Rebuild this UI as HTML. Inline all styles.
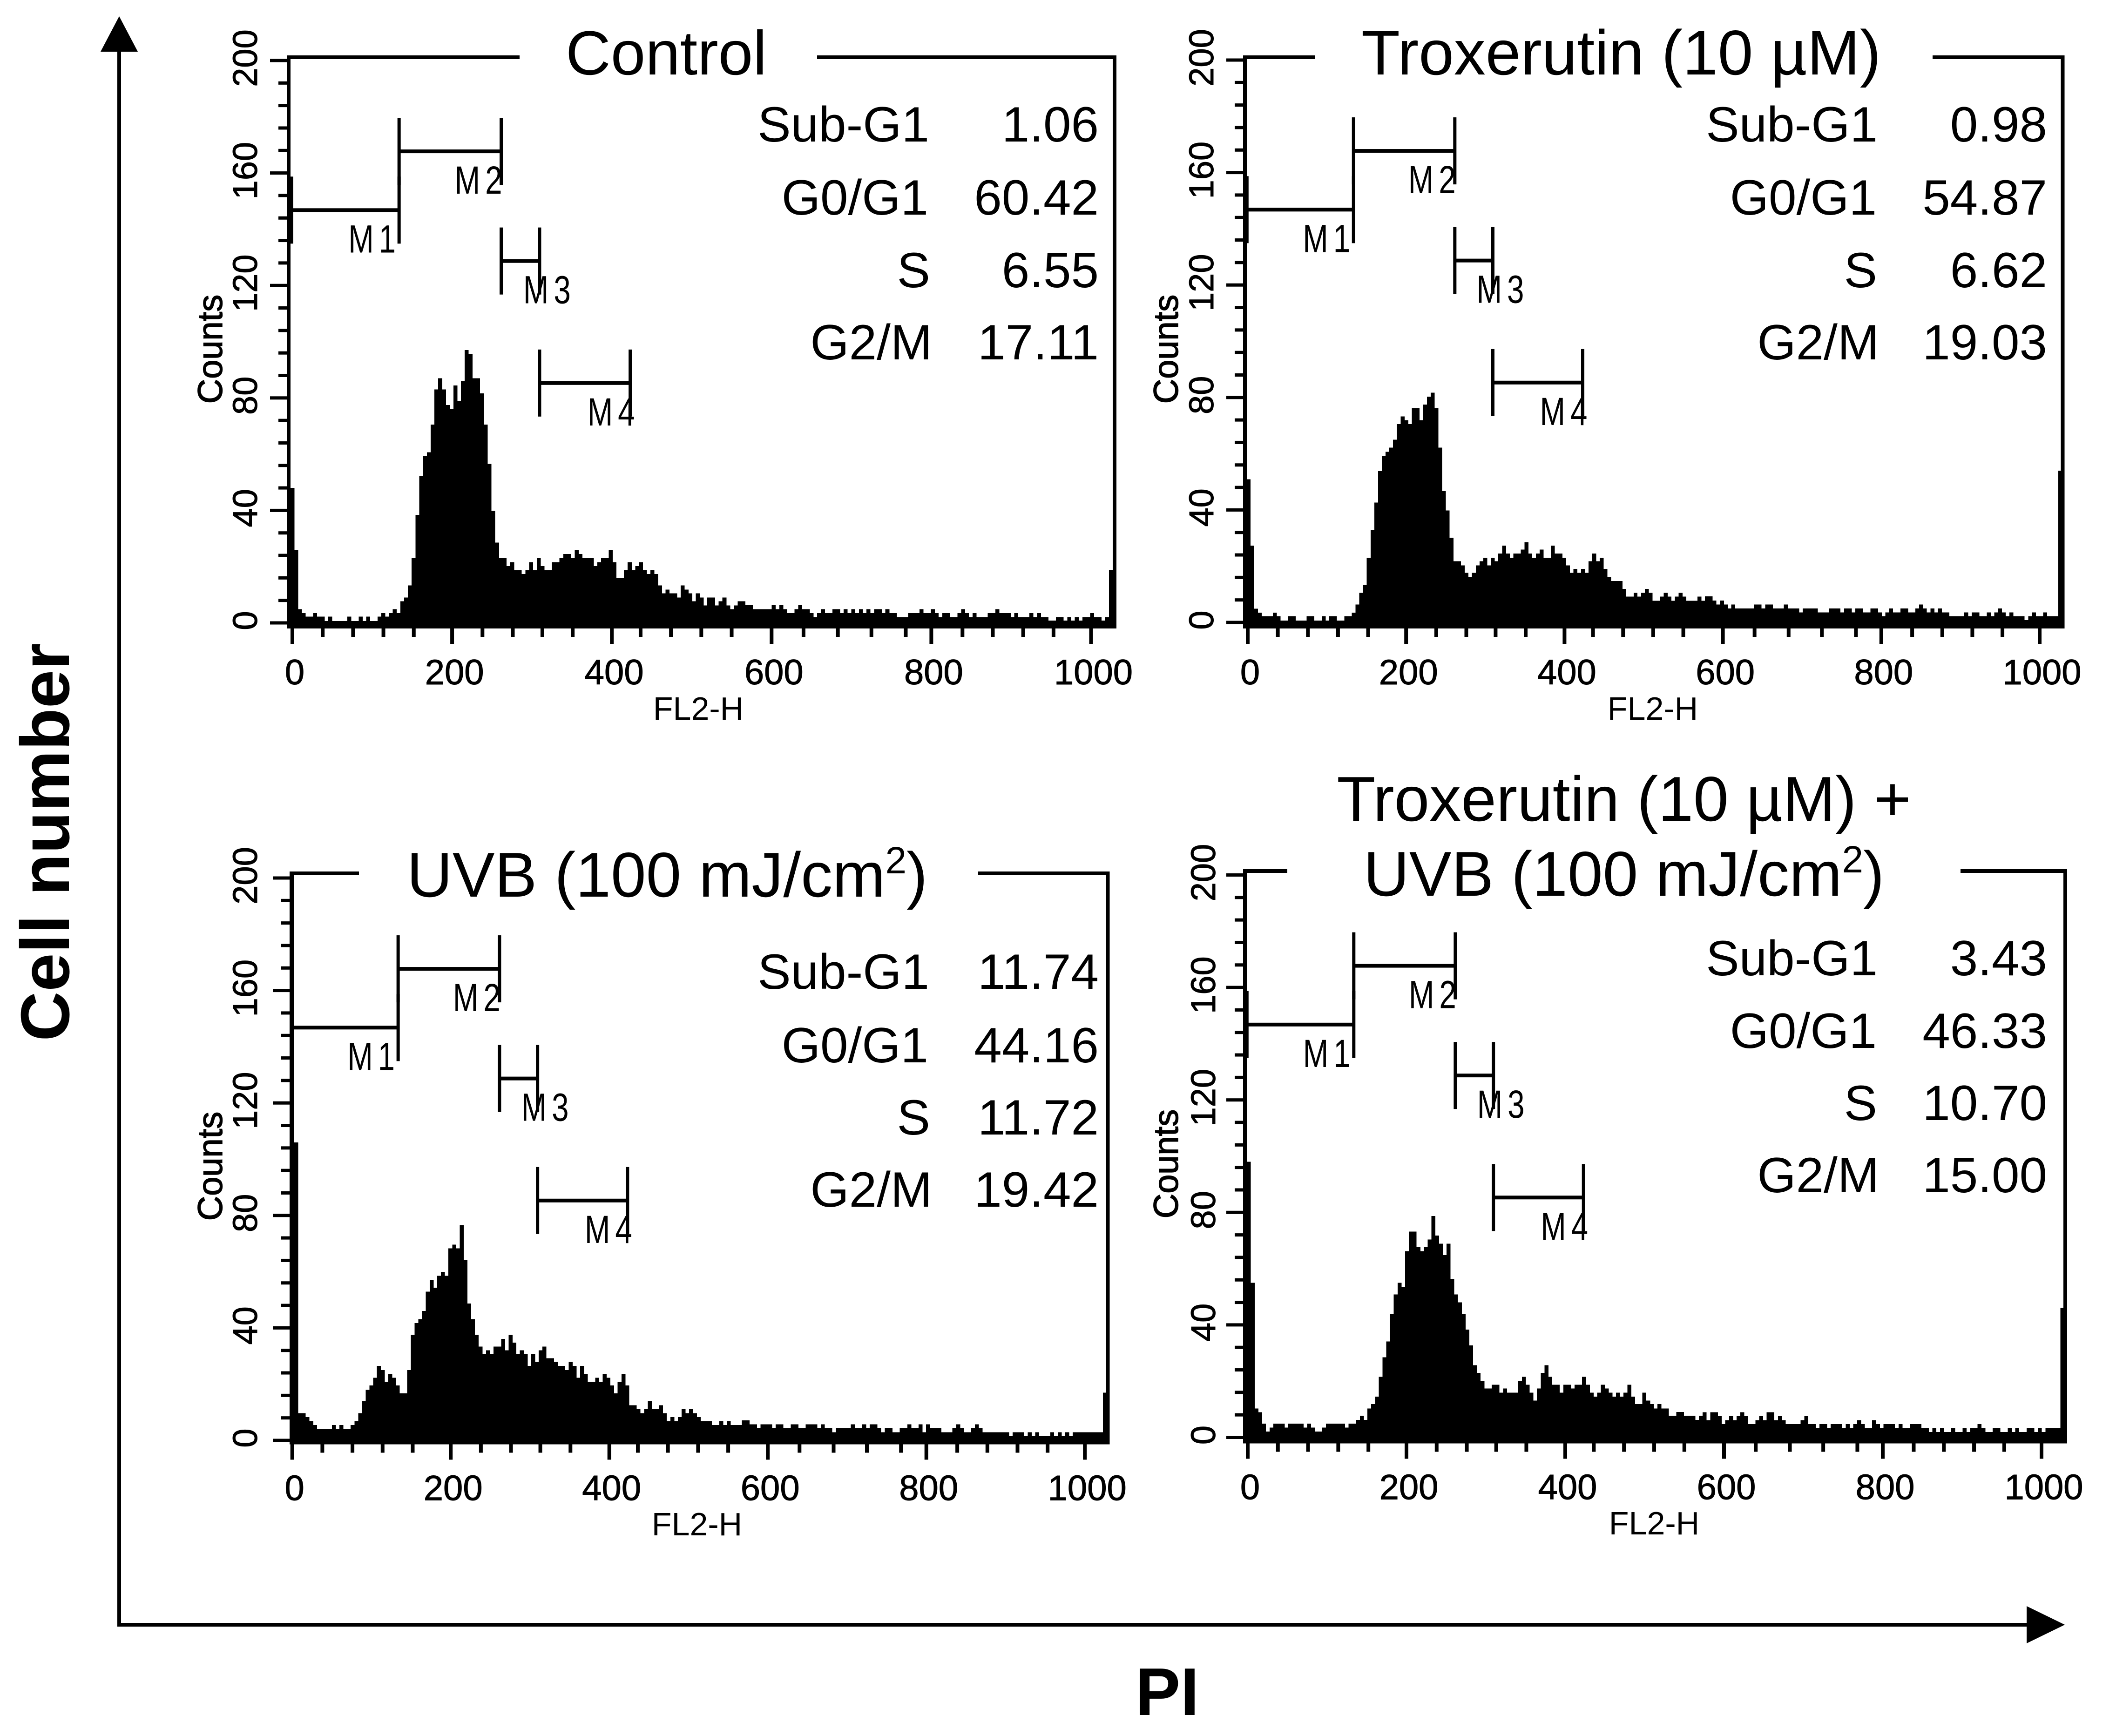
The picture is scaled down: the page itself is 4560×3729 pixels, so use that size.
<!DOCTYPE html>
<html lang="en">
<head>
<meta charset="utf-8">
<title>Cell cycle flow cytometry histograms</title>
<style>
html,body{margin:0;padding:0;background:#fff;}
svg{display:block;position:absolute;left:0;top:0;}
text{font-family:"Liberation Sans",sans-serif;fill:#000;}
</style>
</head>
<body>
<svg id="figure" width="4560" height="3729" viewBox="0 0 4560 3729" xmlns="http://www.w3.org/2000/svg">
<rect x="0" y="0" width="4560" height="3729" fill="#fff"/>

<line x1="256" y1="100" x2="256" y2="3494" stroke="#000" stroke-width="8"/>
<line x1="252" y1="3490" x2="4365" y2="3490" stroke="#000" stroke-width="8"/>
<polygon points="256,35 216,111 296,111" fill="#000"/>
<polygon points="4435,3490 4353,3450 4353,3530" fill="#000"/>
<text transform="translate(148,1809) rotate(-90)" text-anchor="middle" font-size="148" font-weight="700">Cell number</text>
<text x="2507" y="3684" text-anchor="middle" font-size="145" font-weight="700">PI</text>

<text x="1431" y="160" text-anchor="middle" font-size="134">Control</text>
<g font-size="107">
<text x="1996" y="304" text-anchor="end">Sub-G1</text>
<text x="2360" y="304" text-anchor="end">1.06</text>
<text x="1994" y="461" text-anchor="end">G0/G1</text>
<text x="2360" y="461" text-anchor="end">60.42</text>
<text x="1998" y="617" text-anchor="end">S</text>
<text x="2360" y="617" text-anchor="end">6.55</text>
<text x="2002" y="772" text-anchor="end">G2/M</text>
<text x="2360" y="772" text-anchor="end">17.11</text>
</g>
<text x="1500" y="1546" text-anchor="middle" font-size="70">FL2-H</text>
<text transform="translate(477,750) rotate(-90)" text-anchor="middle" font-size="74" stroke="#000" stroke-width="1.5">Counts</text>

<text x="3482" y="160" text-anchor="middle" font-size="136">Troxerutin (10 µM)</text>
<g font-size="107">
<text x="4033" y="304" text-anchor="end">Sub-G1</text>
<text x="4397" y="304" text-anchor="end">0.98</text>
<text x="4031" y="461" text-anchor="end">G0/G1</text>
<text x="4397" y="461" text-anchor="end">54.87</text>
<text x="4032" y="617" text-anchor="end">S</text>
<text x="4397" y="617" text-anchor="end">6.62</text>
<text x="4036" y="772" text-anchor="end">G2/M</text>
<text x="4397" y="772" text-anchor="end">19.03</text>
</g>
<text x="3550" y="1546" text-anchor="middle" font-size="70">FL2-H</text>
<text transform="translate(2530,750) rotate(-90)" text-anchor="middle" font-size="74" stroke="#000" stroke-width="1.5">Counts</text>

<text x="1433" y="1926" text-anchor="middle" font-size="136">UVB (100 mJ/cm<tspan font-size="82" dy="-50">2</tspan><tspan dy="50">)</tspan></text>
<g font-size="107">
<text x="1996" y="2124" text-anchor="end">Sub-G1</text>
<text x="2360" y="2124" text-anchor="end">11.74</text>
<text x="1994" y="2282" text-anchor="end">G0/G1</text>
<text x="2360" y="2282" text-anchor="end">44.16</text>
<text x="1998" y="2437" text-anchor="end">S</text>
<text x="2360" y="2437" text-anchor="end">11.72</text>
<text x="2002" y="2592" text-anchor="end">G2/M</text>
<text x="2360" y="2592" text-anchor="end">19.42</text>
</g>
<text x="1497" y="3298" text-anchor="middle" font-size="70">FL2-H</text>
<text transform="translate(477,2505) rotate(-90)" text-anchor="middle" font-size="74" stroke="#000" stroke-width="1.5">Counts</text>

<text x="3488" y="1763" text-anchor="middle" font-size="136">Troxerutin (10 µM) +</text>
<text x="3488" y="1924" text-anchor="middle" font-size="136">UVB (100 mJ/cm<tspan font-size="82" dy="-50">2</tspan><tspan dy="50">)</tspan></text>
<g font-size="107">
<text x="4033" y="2095" text-anchor="end">Sub-G1</text>
<text x="4397" y="2095" text-anchor="end">3.43</text>
<text x="4031" y="2251" text-anchor="end">G0/G1</text>
<text x="4397" y="2251" text-anchor="end">46.33</text>
<text x="4032" y="2406" text-anchor="end">S</text>
<text x="4397" y="2406" text-anchor="end">10.70</text>
<text x="4036" y="2561" text-anchor="end">G2/M</text>
<text x="4397" y="2561" text-anchor="end">15.00</text>
</g>
<text x="3553" y="3296" text-anchor="middle" font-size="70">FL2-H</text>
<text transform="translate(2530,2500) rotate(-90)" text-anchor="middle" font-size="74" stroke="#000" stroke-width="1.5">Counts</text>
</svg>

<script>
const controlCounts = [
48,26,4.9,3.5,2.2,2.2,3.5,2.2,2.2,.7,
2.2,.7,.7,.7,.7,2.2,.7,.7,2.2,.7,
2.2,.7,.7,2.2,3.5,2.2,3.5,4.9,3.5,7.7,
9,13.3,23,38.4,52.3,59.3,60.7,70.5,83,87,
83,77.5,76,84.4,79,86,97,95.7,87,87,
81.6,70.5,56.5,39.8,28.6,23,23,20.2,21.6,18.8,
18.8,17.4,18.8,21.6,18.8,23,20.2,18.8,18.8,21.6,
21.6,23,24.5,24.5,23,25.8,24.5,23,23,23,
20.2,21.6,23,23,25.8,21.6,16,16,18.8,21.6,
18.8,20.2,21.6,18.8,17.4,18.8,17.4,13.3,10.5,11.8,
10.5,10.5,9,13.3,11.8,10.5,7.7,10.5,9,6.2,
9,9,6.2,7.7,9,6.2,4.9,6.2,7.7,7.7,
6.3,6.3,4.9,4.9,4.9,4.9,4.9,6.3,4.9,6.3,4.9,3.5,3.5,4.9,6.3,4.9,4.9,3.5,2.1,3.5,
4.9,3.5,3.5,4.9,4.9,3.5,4.9,3.5,4.9,3.5,4.9,3.5,4.9,3.5,4.9,4.9,3.5,4.9,3.5,3.5,
2.1,2.1,2.1,3.5,3.5,3.5,4.9,3.5,3.5,4.9,3.5,2.1,3.5,3.5,2.1,2.1,3.5,4.9,3.5,2.1,
3.5,2.1,2.1,2.1,3.5,3.5,4.9,3.5,3.5,3.5,2.1,3.5,2.1,2.1,2.1,3.5,2.1,3.5,2.1,2.1,
.8,.8,2.1,2.1,.8,2.1,.8,2.1,.8,2.1,2.1,3.5,2.1,2.1,.8,2.1,18.9
];
const troxerutinCounts = [
50.9,27.3,4.9,3.5,2.2,2.2,2.2,3.5,2.2,.7,
.7,2.2,2.2,.7,.7,.7,2.2,2.2,.7,.7,
2.2,.7,2.2,2.2,.7,.7,2.2,2.2,3.5,6.4,
10.5,13.3,23,32.8,42.6,53.8,59.3,60.7,62.2,65,
70.5,73.3,71.9,70.5,76.2,76.2,71.9,77.5,80.3,81.7,
76.2,62.2,46.7,39.8,30.1,21.8,21.8,20.3,17.6,16.2,
17.6,20.3,21.8,23,20.3,23,21.8,24.5,27.3,24.5,
23,24.5,24.5,25.9,28.6,24.5,23,24.5,25.9,23,
23,27.3,24.5,24.5,23,20.3,17.6,19,17.6,19,
17.6,21.8,24.5,21.8,23,19,16.2,14.7,14.7,14.7,
11.9,9.2,9.2,10.5,9.2,10.5,11.9,10.5,7.7,7.7,
9.2,10.5,9.2,7.7,9.2,10.5,9.2,7.7,7.7,7.7,9.2,7.7,
9.3,9.3,7.8,6.4,7.8,6.4,5,6.4,5,5,5,5,5,6.4,6.4,5,6.4,6.4,5,5,5,6.4,5,5,5,3.6,
5,5,5,5,3.6,3.6,3.6,5,5,5,3.6,5,5,3.6,5,5,3.6,3.6,5,5,3.6,2.2,3.6,5,3.6,3.6,5,5,
3.6,3.6,5,6.4,5,3.6,5,3.6,5,3.6,3.6,2.2,2.2,2.2,2.2,3.6,2.2,3.6,3.6,2.2,2.2,3.6,
2.2,3.6,5,3.6,2.2,3.6,2.2,2.2,2.2,.8,2.2,3.6,2.2,2.2,3.6,2.2,2.2,2.2,54
];
const uvbCounts = [
106,106,9.7,9.7,8.3,6.9,5.5,4.1,4.1,4.1,
4.1,5.5,4.1,5.5,4.1,4.1,5.5,6.9,9.7,13.9,
18,19.5,22.3,26.5,25,20.9,23.7,22.3,19.5,16.7,
16.7,25,37.5,41.7,43.1,46,52.9,57,54.3,58.5,
59.9,58.5,68.3,69.6,68.3,76.6,64.1,48.7,43.1,37.5,
33.4,30.7,32,30.7,33.4,33.4,36.1,32,37.5,34.8,
30.7,32,30.7,26.5,30.7,27.9,32,33.4,29.2,29.2,
27.9,26.5,26.5,25,27.9,26.5,22.3,26.5,23.7,20.9,
20.9,22.3,20.9,23.7,22.3,19.5,16.7,20.9,23.7,19.5,
12.5,12.5,11.1,9.7,11.1,13.9,11.1,11.1,12.5,9.7,
6.9,8.3,6.9,8.3,11.1,9.7,11.1,9.7,8.3,6.9,
6.9,6.9,5.5,5.5,6.9,5.5,6.9,5.5,5.5,5.5,
7.1,7.1,5.7,5.7,4.4,5.7,5.7,5.7,4.4,5.7,5.7,4.4,4.4,5.7,5.7,4.4,4.4,5.7,5.7,5.7,
4.4,5.7,4.4,4.4,2.9,4.4,4.4,4.4,4.4,5.7,4.4,4.4,5.7,4.4,5.7,5.7,4.4,2.9,4.4,4.4,
2.9,2.9,4.4,4.4,5.7,4.4,4.4,5.7,2.9,5.7,4.4,4.4,4.4,2.9,2.9,2.9,4.4,5.7,4.4,2.9,
2.9,4.4,5.7,4.4,2.9,2.9,2.9,2.9,2.9,2.9,2.9,1.5,2.9,2.9,2.9,1.5,2.9,1.5,2.9,1.5,
1.5,1.5,2.9,1.5,2.9,1.5,2.9,1.5,2.9,2.9,2.9,2.9,2.9,2.9,2.9,2.9,17
];
const comboCounts = [
98,55,10.3,8.9,4.9,2.1,3.5,4.9,4.9,4.9,
3.5,4.9,4.9,4.9,4.9,3.5,4.9,3.5,2.1,2.1,
3.5,4.9,4.9,4.9,4.9,4.9,3.5,4.9,4.9,6.2,
7.7,6.2,10.3,11.8,14.5,21.5,28.5,34.1,43.9,50.8,
55,53.6,66.2,73.2,73.2,67.6,66.2,67.6,70.4,78.7,
71.8,68.9,64.8,68.9,56.4,50.8,48,43.9,38.3,32.7,
25.7,22.9,20.1,17.4,17.4,18.7,18.7,15.9,17.4,15.9,
15.9,15.9,20.1,21.5,18.7,15.9,13.1,17.4,22.9,25.7,
21.5,18.7,18.7,15.9,18.7,18.7,17.4,18.7,18.7,21.5,
18.7,15.9,14.5,15.9,18.7,17.4,15.9,14.5,15.9,14.5,
15.9,18.7,14.5,11.8,11.8,15.9,13.1,11.8,10.3,11.8,
10.3,10.3,7.7,7.7,9,9,7.7,7.7,7.7,6.2,7.7,
8.9,6.1,8.9,8.9,7.5,4.7,6.1,7.5,6.1,7.5,8.9,7.5,4.7,4.7,6.1,7.5,6.1,8.9,8.9,6.1,
7.5,6.1,4.7,4.7,4.7,4.7,6.1,7.5,4.7,4.7,3.3,4.7,4.7,3.3,4.7,4.7,4.7,3.3,4.7,3.3,
4.7,6.1,4.7,3.3,3.3,6.1,4.7,3.3,4.7,4.7,4.7,3.3,4.7,3.3,3.3,4.7,4.7,4.7,3.3,3.3,
1.9,3.3,1.9,3.3,1.9,1.9,3.3,1.9,1.9,3.3,1.9,3.3,3.3,4.7,3.3,1.9,1.9,3.3,3.3,1.9,
1.9,3.3,1.9,3.3,1.9,1.9,3.3,3.3,1.9,3.3,1.9,3.3,3.3,3.3,3.3,46
];
const xTickLabels = [0,200,400,600,800,1000];
const xMinorTicks = [38,76,114,152,238,276,313,351,436,474,512,550,640,683,725,768,839,877,915,953];
const yTickLabels = [0,40,80,120,160,200];
const yMinorTicks = [8,16,24,32,48,56,64,72,88,96,104,112,128,136,144,152,168,176,184,192];
const gateLabels = ['M1','M2','M3','M4'];
const gateEdges = [-1,133.6,261.5,309.5,423];
const gateLevels = [146.8,167.7,128.7,85.3];

const NS = 'http://www.w3.org/2000/svg';
const figure = document.getElementById('figure');
const BIN_CHANNELS = 4.745;
const COUNT_PX = 6.04;

function makeRect(parent, x, y, w, h) {
  const r = document.createElementNS(NS, 'rect');
  r.setAttribute('x', x.toFixed(2));
  r.setAttribute('y', y.toFixed(2));
  r.setAttribute('width', w.toFixed(2));
  r.setAttribute('height', h.toFixed(2));
  r.setAttribute('fill', '#000');
  parent.appendChild(r);
  return r;
}

function drawPanel(id, counts, p) {
  const xScale = v => p.x0 + v * p.xk;
  const yScale = c => p.y0 - c * COUNT_PX;
  const g = document.createElementNS(NS, 'g');
  
  
  figure.appendChild(g);

  counts.forEach((c, k) => {
    const xa = xScale(k * BIN_CHANNELS + p.off);
    const xb = xScale((k + 1) * BIN_CHANNELS + p.off);
    const bar = makeRect(g, xa, yScale(c), xb - xa + 0.4, p.bottom - yScale(c));
    bar.setAttribute('shape-rendering', 'crispEdges');
    
    
  });

  const base = makeRect(g, p.left - 4, p.y0 + 2, p.right + 4 - (p.left - 4), p.bottom - p.y0 - 2);
  
  
  const leftAxis = makeRect(g, p.left - 4, p.top - 4, p.leftW, p.bottom - p.top + 4);
  
  
  const rightAxis = makeRect(g, p.right - 4, p.top - 4, 8, p.bottom - p.top + 4);
  
  
  const topLeft = makeRect(g, p.left - 4, p.top - 4, p.gapA - p.left + 4, 8);
  
  
  const topRight = makeRect(g, p.gapB, p.top - 4, p.right + 4 - p.gapB, 8);
  
  

  xTickLabels.forEach(v => {
    const t = makeRect(g, xScale(v) - 4, p.bottom, 8, 33);
    
    
    const lab = document.createElementNS(NS, 'text');
    lab.setAttribute('x', (xScale(v) + 5).toFixed(1));
    lab.setAttribute('y', p.bottom + 120);
    lab.setAttribute('text-anchor', 'middle');
    lab.setAttribute('font-size', '76');
    lab.setAttribute('stroke', '#000');
    lab.setAttribute('stroke-width', '1');
    
    
    lab.textContent = v;
    g.appendChild(lab);
  });
  xMinorTicks.forEach(v => {
    const t = makeRect(g, xScale(v) - 4, p.bottom, 8, 18);
    
    
  });
  yTickLabels.forEach(v => {
    const t = makeRect(g, p.left - 40, yScale(v) - 3.5, 40, 7);
    
    
    const lab = document.createElementNS(NS, 'text');
    lab.setAttribute('transform', 'translate(' + p.yLabelX + ',' + (yScale(v) - 5).toFixed(1) + ') rotate(-90)');
    lab.setAttribute('text-anchor', 'middle');
    lab.setAttribute('font-size', '74');
    lab.setAttribute('stroke', '#000');
    lab.setAttribute('stroke-width', '1');
    
    
    lab.textContent = v;
    g.appendChild(lab);
  });
  yMinorTicks.forEach(v => {
    const t = makeRect(g, p.left - 22, yScale(v) - 3.5, 22, 7);
    
    
  });

  gateLabels.forEach((name, i) => {
    const xa = xScale(gateEdges[i]);
    const xb = xScale(gateEdges[i + 1]);
    const yc = yScale(gateLevels[i]);
    const bar = makeRect(g, xa, yc - 4, xb - xa, 8);
    
    
    const capA = makeRect(g, xa - 3.5, yc - 72, 7, 144);
    
    
    const capB = makeRect(g, xb - 3.5, yc - 72, 7, 144);
    
    
    const lab = document.createElementNS(NS, 'text');
    const labX = xb + [-109, -100, -35, -92][i];
    const labY = yc + 91;
    lab.setAttribute('transform', 'translate(' + labX.toFixed(1) + ',' + labY.toFixed(1) + ') scale(.78,1)');
    lab.setAttribute('font-size', '84');
    lab.setAttribute('letter-spacing', '14');
    
    
    lab.textContent = name;
    g.appendChild(lab);
  });
}

drawPanel('control', controlCounts, {x0:628,xk:1.7155,off:-2.475,y0:1338,left:620,leftW:8,right:2394,top:123,bottom:1350,gapA:1116,gapB:1755,yLabelX:552});
drawPanel('troxerutin', troxerutinCounts, {x0:2680,xk:1.701,off:-1.51,y0:1337,left:2674,leftW:8,right:4430.5,top:123,bottom:1350,gapA:2825,gapB:4151,yLabelX:2606});
drawPanel('uvb', uvbCounts, {x0:627.7,xk:1.7025,off:-2.22,y0:3094,left:626,leftW:9,right:2379.5,top:1876,bottom:3102.5,gapA:771,gapB:2101,yLabelX:552});
drawPanel('combo', comboCounts, {x0:2680,xk:1.705,off:-1.05,y0:3087.5,left:2674,leftW:8,right:4436,top:1871,bottom:3100.5,gapA:2765,gapB:4211,yLabelX:2610});
</script>
</body>
</html>
